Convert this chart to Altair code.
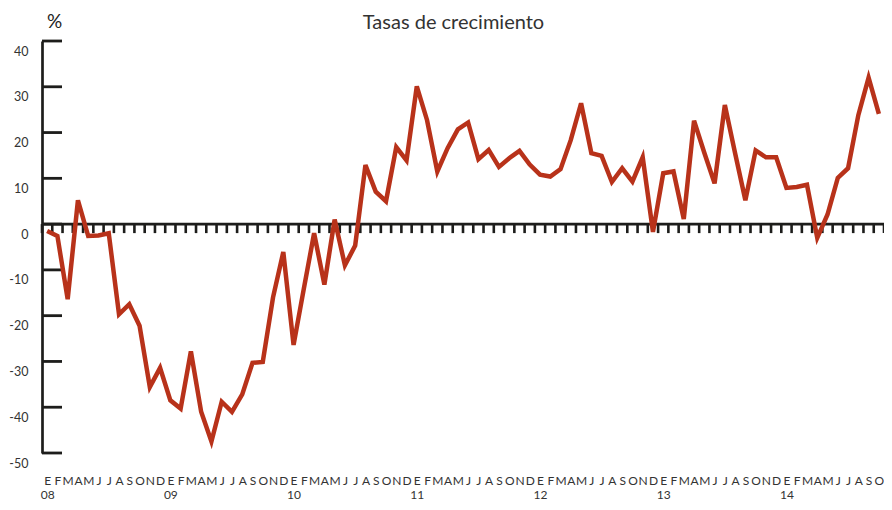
import altair as alt
import pandas as pd

# ---- data (monthly growth rates, Jan 2008 - Oct 2014) ----
MONTHS = ["E", "F", "M", "A", "M", "J", "J", "A", "S", "O", "N", "D"]
YEARS = ["08", "09", "10", "11", "12", "13", "14"]
VALUES = [
    -1.5, -2.6, -16.4, 5.2, -2.6, -2.5, -2.0, -19.7, -17.5, -22.2, -35.6, -31.4,
    -38.5, -40.3, -27.8, -41.0, -47.5, -38.8, -41.0, -37.2, -30.3, -30.1, -16.0, -6.1,
    -26.4, -14.1, -2.0, -13.2, 1.0, -9.0, -4.7, 12.9, 7.1, 5.0, 16.8, 13.9,
    30.1, 22.7, 11.5, 16.6, 20.7, 22.2, 14.2, 16.2, 12.5, 14.4, 16.0, 13.0,
    10.8, 10.4, 12.0, 18.4, 26.4, 15.5, 14.9, 9.2, 12.2, 9.3, 14.6, -1.7,
    11.1, 11.5, 1.1, 22.6, 15.6, 8.9, 26.0, 15.5, 5.2, 16.1, 14.6, 14.6,
    7.9, 8.1, 8.6, -3.0, 2.1, 10.1, 12.2, 23.8, 32.0, 24.1,
]
Y_TICKS = [40, 30, 20, 10, 0, -10, -20, -30, -40, -50]
TITLE = "Tasas de crecimiento"
UNIT = "%"

n = len(VALUES)
df = pd.DataFrame({"t": list(range(n)), "v": VALUES})
edges = pd.DataFrame({"t": [k - 0.5 for k in range(n + 1)], "v": [0] * (n + 1)})
zero_df = pd.DataFrame({"v": [0]})
ytick_df = pd.DataFrame({"v": Y_TICKS})

W, H = 842, 412
INK = "#1d1d1b"
TXT = "#333333"
RED = "#B8321A"
FONT = "Lato"

month_js = "[" + ",".join(f"'{m}'" for m in MONTHS) + "]"
year_js = "[" + ",".join(f"'{y}'" for y in YEARS) + "]"
x_label_expr = (
    f"datum.value % 12 == 0 ? [{month_js}[datum.value % 12], "
    f"{year_js}[floor(datum.value / 12)]] : {month_js}[datum.value % 12]"
)

xs = alt.Scale(domain=[-0.5, n - 0.5], nice=False, zero=False)
ys = alt.Scale(domain=[-50, 40], nice=False, zero=False)

# x axis: month letters + years below; its title carries the chart heading
xaxis = alt.Axis(
    values=list(range(n)), labelExpr=x_label_expr, domain=False, ticks=False,
    tickSize=0, grid=False, labelPadding=22, labelFont=FONT, labelFontSize=12,
    labelColor=TXT, labelOverlap=False, labelBound=False, labelFlush=False,
    labelAngle=0, labelBaseline="top", labelLineHeight=14.5, labelAlign="center",
    title=TITLE, titleX=411, titleY=-(H + 13), titleAngle=0, titleAlign="center",
    titleBaseline="alphabetic", titleFont=FONT, titleFontSize=20,
    titleFontWeight="normal", titleColor=TXT,
)
yaxis = alt.Axis(
    values=Y_TICKS,
    labelExpr="datum.value < 0 ? '-' + abs(datum.value) : '' + datum.value",
    domain=True, domainColor=INK, domainWidth=2.7, ticks=False, tickSize=0,
    grid=False, labelPadding=14, labelOffset=10, labelFont=FONT,
    labelFontSize=12.5, labelColor=TXT, labelOverlap=False, labelBound=False,
    labelFlush=False, title=UNIT, titleAngle=0, titleX=12, titleY=-14,
    titleAlign="center", titleBaseline="alphabetic", titleFont=FONT,
    titleFontSize=19, titleFontWeight="normal", titleColor="#222222",
)

zero_line = alt.Chart(zero_df).mark_rule(color=INK, strokeWidth=2.8).encode(
    y=alt.Y("v:Q", scale=ys, axis=yaxis)
)
edge_ticks = alt.Chart(edges).mark_tick(
    orient="vertical", size=9, thickness=2.6, color=INK, yOffset=4.5, opacity=1
).encode(
    x=alt.X("t:Q", scale=xs, axis=xaxis),
    y=alt.Y("v:Q", scale=ys, axis=yaxis),
)
y_ticks = alt.Chart(ytick_df).mark_rule(color=INK, strokeWidth=2.8).encode(
    y=alt.Y("v:Q", scale=ys, axis=yaxis),
    x=alt.value(0),
    x2=alt.value(20),
)
line = alt.Chart(df).mark_line(color=RED, strokeWidth=4.5).encode(
    x=alt.X("t:Q", scale=xs, axis=xaxis),
    y=alt.Y("v:Q", scale=ys, axis=yaxis),
)

chart = (
    alt.layer(zero_line, edge_ticks, y_ticks, line)
    .properties(
        width=W,
        height=H,
        padding={"left": 34, "top": 33, "right": 0, "bottom": 49},
        autosize=alt.AutoSizeParams(type="none"),
        background="white",
    )
    .configure_view(stroke=None)
)

chart.save("out.html", embed_options={"renderer": "svg", "actions": False})
